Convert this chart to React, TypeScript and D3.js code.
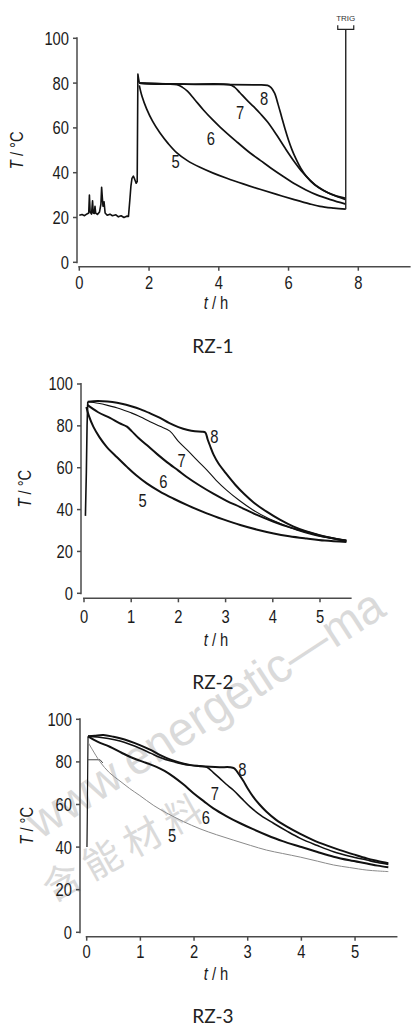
import React from "react";
import * as d3 from "d3";

type Pt = [number, number];

// shared
const yTicks = [0, 20, 40, 60, 80, 100];

// ---- RZ-1 ----
const rz1XTicks = [0, 2, 4, 6, 8];
const rz1Pre: Pt[] = [
  [0, 21], [0.08, 21.3], [0.15, 20.8], [0.22, 21.6], [0.27, 22], [0.29, 30], [0.31, 22.5],
  [0.35, 21.5], [0.38, 27.5], [0.4, 22], [0.43, 21.8], [0.45, 25], [0.47, 22], [0.52, 21.4],
  [0.58, 22.5], [0.62, 26], [0.64, 33.5], [0.66, 29], [0.68, 25], [0.71, 27], [0.74, 22],
  [0.8, 21], [0.88, 21.5], [0.95, 20.8], [1.05, 21.2], [1.12, 20.3], [1.2, 20.8], [1.28, 20],
  [1.36, 20.6], [1.41, 20.5], [1.45, 28], [1.48, 34], [1.51, 37.5], [1.55, 38.5], [1.59, 37],
  [1.63, 35.3], [1.66, 36], [1.68, 84], [1.7, 82], [1.72, 80.2],
];
const rz1C8: Pt[] = [
  [1.72, 80], [2, 79.6], [3, 79.5], [4, 79.4], [5, 79.2], [5.4, 79], [5.5, 78], [5.6, 75.5],
  [5.7, 70.5], [5.8, 65], [5.9, 59.5], [6.0, 54.5], [6.1, 50.2], [6.2, 46.6], [6.35, 42],
  [6.5, 38.6], [6.75, 34.6], [7.0, 32.1], [7.3, 30], [7.64, 28.6],
];
const rz1C7: Pt[] = [
  [1.72, 80], [3, 79.5], [4.3, 79.3], [4.45, 78.2], [4.6, 75.8], [4.8, 72.5], [5.0, 69.5],
  [5.2, 66.2], [5.4, 62.6], [5.66, 56.8], [5.9, 51], [6.14, 45.5], [6.4, 40.2], [6.62, 36.6],
  [6.85, 33.6], [7.09, 31.4], [7.35, 29.6], [7.64, 28],
];
const rz1C6: Pt[] = [
  [1.72, 80], [2.5, 79.6], [2.8, 79.3], [2.95, 78.2], [3.1, 76.4], [3.3, 72.8], [3.56, 68],
  [3.8, 64], [4.03, 60.5], [4.5, 54], [4.89, 48.9], [5.2, 45.4], [5.5, 42], [5.85, 38.3],
  [6.2, 34.8], [6.5, 32.3], [6.81, 30.1], [7.2, 28], [7.64, 26],
];
const rz1C5: Pt[] = [
  [1.72, 79], [1.8, 74], [1.93, 68.5], [2.1, 63], [2.31, 57.8], [2.55, 53], [2.79, 49],
  [3.1, 45.4], [3.46, 42.4], [3.84, 39.8], [4.23, 37.5], [4.7, 35], [5.18, 32.6], [5.66, 30.3],
  [6.14, 28.1], [6.6, 26.1], [6.9, 25], [7.3, 24.2], [7.64, 23.7],
];
const rz1Labels: [string, number, number][] = [
  ["8", 5.3, 73.2], ["7", 4.61, 66.8], ["6", 3.77, 55.4], ["5", 2.76, 44.9],
];
const trigTime = 7.64;
const trigBottom = 23.7;
const trigTop = 104;

// ---- RZ-2 ----
const rz2XTicks = [0, 1, 2, 3, 4, 5];
const rz2Rise: Pt[] = [[0.03, 37], [0.05, 58], [0.065, 80], [0.08, 91.5]];
const rz2C8: Pt[] = [
  [0.08, 91.5], [0.2, 91.8], [0.4, 91.8], [0.6, 91.4], [0.8, 90.6], [1.0, 89.4], [1.2, 87.9],
  [1.4, 86], [1.6, 83.9], [1.8, 81.4], [2.0, 79.4], [2.2, 78], [2.35, 77.4], [2.5, 77.2],
  [2.57, 76.8], [2.62, 73.5], [2.67, 70.5], [2.75, 66], [2.85, 62], [3.0, 57.5], [3.2, 52],
  [3.4, 47.3], [3.6, 43.3], [3.87, 39], [4.15, 35.2], [4.43, 32], [4.7, 29.7], [4.99, 27.8],
  [5.25, 26.4], [5.56, 25.1],
];
const rz2C7: Pt[] = [
  [0.08, 91.5], [0.3, 90.8], [0.5, 89.8], [0.76, 88.2], [1.0, 86.2], [1.19, 84.4], [1.4, 82],
  [1.61, 79.8], [1.82, 77.5], [2.0, 72.6], [2.19, 68.4], [2.4, 63.5], [2.6, 59], [2.8, 54],
  [3.02, 49.3], [3.3, 44.2], [3.58, 39.8], [3.87, 36.2], [4.15, 33.4], [4.5, 30.3],
  [4.86, 27.9], [5.2, 26.5], [5.56, 25.5],
];
const rz2C6: Pt[] = [
  [0.07, 90], [0.3, 86.5], [0.55, 83.8], [0.75, 81.3], [0.91, 79.6], [1.01, 77.5],
  [1.15, 74.3], [1.33, 70.8], [1.55, 66.5], [1.75, 62.8], [2.0, 58.6], [2.17, 55.7],
  [2.45, 51.5], [2.74, 47.6], [3.02, 44.2], [3.31, 41.2], [3.65, 37.6], [4.02, 34.2],
  [4.35, 31.6], [4.72, 29.3], [5.1, 27], [5.56, 25],
];
const rz2C5: Pt[] = [
  [0.05, 89], [0.1, 85], [0.2, 79.5], [0.33, 74.5], [0.48, 70], [0.7, 65], [0.91, 60.4],
  [1.1, 56.5], [1.33, 52.5], [1.6, 48.7], [1.89, 45.3], [2.2, 42], [2.6, 38.2], [2.95, 35.3],
  [3.31, 32.6], [3.65, 30.5], [4.02, 28.6], [4.35, 27.3], [4.72, 26.2], [5.1, 25.2], [5.56, 24.5],
];
const rz2Labels: [string, number, number][] = [
  ["8", 2.76, 74.7], ["7", 2.07, 63.6], ["6", 1.68, 53.3], ["5", 1.24, 44.5],
];

// ---- RZ-3 ----
const rz3XTicks = [0, 1, 2, 3, 4, 5];
const rz3Rise: Pt[] = [[0.005, 40], [0.01, 52], [0.015, 66], [0.02, 80], [0.025, 92]];
const rz3Shelf: Pt[] = [[0.01, 81], [0.25, 81], [0.3, 79.5]];
const rz3C8: Pt[] = [
  [0.025, 92], [0.15, 92.3], [0.31, 92.6], [0.5, 91.8], [0.62, 91.1], [0.8, 89.7],
  [0.99, 87.9], [1.2, 85.5], [1.37, 83.2], [1.55, 81.2], [1.74, 79.6], [1.92, 78.6],
  [2.11, 78.1], [2.3, 77.7], [2.48, 77.5], [2.67, 77.5], [2.75, 77], [2.8, 75.5], [2.86, 73.3],
  [2.92, 71], [3.0, 67.5], [3.1, 63.7], [3.22, 60], [3.35, 56.6], [3.53, 52.8], [3.73, 49.6],
  [3.98, 46.2], [4.22, 43.3], [4.47, 40.8], [4.72, 38.6], [4.97, 36.6], [5.22, 34.7],
  [5.42, 33.5], [5.62, 32.4],
];
const rz3C7: Pt[] = [
  [0.025, 92], [0.2, 91.7], [0.4, 91], [0.62, 89.8], [0.8, 88.3], [0.99, 86.4], [1.2, 84],
  [1.37, 82.1], [1.55, 80.5], [1.74, 79.3], [1.92, 78.4], [2.11, 77.9], [2.24, 77.5],
  [2.36, 75], [2.48, 72.3], [2.6, 69.5], [2.73, 66.8], [2.88, 63], [3.04, 59], [3.25, 54.8],
  [3.48, 51.2], [3.73, 47.5], [3.98, 44.1], [4.3, 40.7], [4.6, 37.8], [4.9, 35.7], [5.22, 33.9],
  [5.42, 32.8], [5.62, 31.9],
];
const rz3C6: Pt[] = [
  [0.025, 92], [0.2, 89.5], [0.43, 87.1], [0.65, 84.3], [0.87, 81.7], [1.1, 79.6], [1.3, 77.7],
  [1.45, 75.8], [1.62, 73], [1.8, 69.5], [1.99, 65.3], [2.18, 61.6], [2.36, 58.2], [2.6, 54.6],
  [2.86, 51.2], [3.1, 48.4], [3.35, 45.7], [3.65, 42.8], [3.98, 40.2], [4.3, 37.7], [4.6, 35.5],
  [4.9, 33.8], [5.22, 32.3], [5.42, 31.3], [5.62, 30.5],
];
const rz3C5: Pt[] = [
  [0.03, 89], [0.1, 86], [0.25, 80], [0.42, 75], [0.62, 71], [0.8, 67.5], [0.99, 64.2],
  [1.25, 59.5], [1.49, 56], [1.8, 52], [2.11, 48.6], [2.42, 45.8], [2.73, 43.3], [3.05, 40.8],
  [3.35, 38.6], [3.65, 37], [3.98, 35.3], [4.3, 33.4], [4.6, 31.6], [4.9, 30.4], [5.22, 29.2],
  [5.42, 28.8], [5.62, 28.5],
];
const rz3Labels: [string, number, number][] = [
  ["8", 2.9, 76.2], ["7", 2.39, 65.3], ["6", 2.22, 54], ["5", 1.59, 45.4],
];

// watermark pieces, laid along one slanted baseline
const wmPieces: [string, number][] = [["www.", 113], ["energetic", 192], ["—ma", 110]];

const NUM_FONT = "'Liberation Sans', Arial, sans-serif";
const CAP_FONT = "Lato, 'Open Sans', sans-serif";
const AXIS = "#4a4a4a";
const TXT = "#1a1a1a";

// narrow (Arial Narrow look) text: squeeze Liberation Sans horizontally
function NText(props: {
  x: number;
  y: number;
  anchor?: string;
  rotate?: number;
  size?: number;
  children: React.ReactNode;
}) {
  const { x, y, anchor = "middle", rotate = 0, size = 18, children } = props;
  return (
    <text
      transform={`translate(${x},${y}) rotate(${rotate}) scale(0.82,1)`}
      textAnchor={anchor}
      dy="0.36em"
      fontFamily={NUM_FONT}
      fontSize={size}
      fill={TXT}
    >
      {children}
    </text>
  );
}

type Series = { pts: Pt[]; w: number; color?: string; smooth?: boolean };

type PanelProps = {
  caption: string;
  xMax: number;
  xTicks: number[];
  x0: number;
  xUnit: number;
  yTop: number;
  yBot: number;
  yAxisX: number;
  xAxisY: number;
  tickLabelY: number;
  xLabelY: number;
  captionY: number;
  yLabelX: number;
  series: Series[];
  labels: [string, number, number][];
  children?: (x: d3.ScaleLinear<number, number>, y: d3.ScaleLinear<number, number>) => React.ReactNode;
};

function Panel(p: PanelProps) {
  const x = d3.scaleLinear().domain([0, p.xMax]).range([p.x0, p.x0 + p.xUnit * p.xMax]);
  const y = d3.scaleLinear().domain([0, 100]).range([p.yBot, p.yTop]);
  const mk = (smooth?: boolean) =>
    d3
      .line<Pt>()
      .x((d) => x(d[0]))
      .y((d) => y(d[1]))
      .curve(smooth ? d3.curveCatmullRom.alpha(0.5) : d3.curveLinear);
  const yMid = (p.yTop + p.yBot) / 2;
  return (
    <g>
      {/* y axis */}
      <line x1={p.yAxisX} x2={p.yAxisX} y1={y(100) - 1} y2={y(0) + 1} stroke={AXIS} strokeWidth={1.5} />
      {yTicks.map((t) => (
        <g key={t}>
          <line x1={p.yAxisX - 4} x2={p.yAxisX} y1={y(t)} y2={y(t)} stroke={AXIS} strokeWidth={1.5} />
          <NText x={p.yAxisX - 8} y={y(t)} anchor="end">
            {t}
          </NText>
        </g>
      ))}
      {/* x axis */}
      <line x1={x(0) - 1} x2={x(p.xMax)} y1={p.xAxisY} y2={p.xAxisY} stroke={AXIS} strokeWidth={1.5} />
      {p.xTicks.map((t) => (
        <g key={t}>
          <line x1={x(t)} x2={x(t)} y1={p.xAxisY} y2={p.xAxisY + 4} stroke={AXIS} strokeWidth={1.5} />
          <NText x={x(t)} y={p.tickLabelY}>
            {t}
          </NText>
        </g>
      ))}
      <NText x={216} y={p.xLabelY}>
        <tspan fontStyle="italic">t</tspan> / h
      </NText>
      <NText x={p.yLabelX} y={yMid} rotate={-90}>
        <tspan fontStyle="italic">T</tspan> / °C
      </NText>
      {p.series.map((s, i) => (
        <path
          key={i}
          d={mk(s.smooth)(s.pts) || ""}
          fill="none"
          stroke={s.color || "#111"}
          strokeWidth={s.w}
          strokeLinejoin="round"
        />
      ))}
      {p.labels.map(([l, lx, ly]) => (
        <NText key={l} x={x(lx)} y={y(ly)}>
          {l}
        </NText>
      ))}
      {p.children && p.children(x, y)}
      <text x={213} y={p.captionY} dy="0.36em" textAnchor="middle" fontFamily={CAP_FONT} fontSize={19} fill="#222">
        {p.caption}
      </text>
    </g>
  );
}

function Watermark() {
  const ang = -33;
  const cos = Math.cos((ang * Math.PI) / 180);
  const sin = Math.sin((ang * Math.PI) / 180);
  let along = 0;
  return (
    <g fill="#dadada" fontFamily="'Liberation Sans', sans-serif">
      {wmPieces.map(([s, w]) => {
        const px = 40 + along * cos;
        const py = 840 + along * sin;
        along += w;
        return (
          <text
            key={s}
            transform={`translate(${px},${py}) rotate(${ang})`}
            fontSize={48}
            textLength={w}
            lengthAdjust="spacingAndGlyphs"
          >
            {s}
          </text>
        );
      })}
      <text
        transform="translate(52,903) rotate(-29)"
        fontSize={38}
        fontFamily="'Noto Sans CJK SC', sans-serif"
        letterSpacing={8}
      >
        含能材料
      </text>
    </g>
  );
}

export default function App() {
  return (
    <svg
      width={411}
      height={1026}
      viewBox="0 0 411 1026"
      style={{ position: "absolute", left: 0, top: 0, background: "#fff" }}
    >
      <rect width={411} height={1026} fill="#fff" />
      <Watermark />
      <Panel
        caption="RZ-1"
        xMax={9.5}
        xTicks={rz1XTicks}
        x0={79.3}
        xUnit={34.875}
        yTop={38.3}
        yBot={262.3}
        yAxisX={77}
        xAxisY={266.7}
        tickLabelY={283}
        xLabelY={303}
        captionY={346}
        yLabelX={17}
        series={[
          { pts: rz1Pre, w: 1.6 },
          { pts: rz1C5, w: 1.7, smooth: true },
          { pts: rz1C6, w: 1.7, smooth: true },
          { pts: rz1C7, w: 1.7, smooth: true },
          { pts: rz1C8, w: 1.7, smooth: true },
        ]}
        labels={rz1Labels}
      >
        {(x, y) => (
          <g stroke="#222" fill="none" strokeWidth={1.4}>
            <line x1={x(trigTime)} x2={x(trigTime)} y1={y(trigBottom)} y2={y(trigTop)} />
            <path
              d={`M${x(trigTime) - 8},${y(trigTop) - 4}V${y(trigTop)}H${x(trigTime) + 8}V${y(trigTop) - 4}`}
              strokeWidth={1.2}
            />
            <text
              x={x(trigTime)}
              y={y(trigTop) - 8}
              textAnchor="middle"
              fontFamily="'Liberation Sans', sans-serif"
              fontSize={8}
              fill="#333"
              stroke="none"
            >
              TRIG
            </text>
          </g>
        )}
      </Panel>
      <Panel
        caption="RZ-2"
        xMax={5.67}
        xTicks={rz2XTicks}
        x0={84}
        xUnit={47.2}
        yTop={384}
        yBot={593.3}
        yAxisX={81}
        xAxisY={598.3}
        tickLabelY={617}
        xLabelY={640}
        captionY={682}
        yLabelX={25}
        series={[
          { pts: rz2Rise, w: 1.6 },
          { pts: rz2C5, w: 2, smooth: true },
          { pts: rz2C6, w: 2, smooth: true },
          { pts: rz2C7, w: 1.1, smooth: true },
          { pts: rz2C8, w: 2, smooth: true },
        ]}
        labels={rz2Labels}
      />
      <Panel
        caption="RZ-3"
        xMax={5.79}
        xTicks={rz3XTicks}
        x0={86.7}
        xUnit={53.67}
        yTop={719.3}
        yBot={932.3}
        yAxisX={80}
        xAxisY={936.7}
        tickLabelY={951.7}
        xLabelY={974}
        captionY={1016.5}
        yLabelX={27}
        series={[
          { pts: rz3Rise, w: 1.2 },
          { pts: rz3Shelf, w: 1, color: "#444" },
          { pts: rz3C5, w: 1, color: "#8a8a8a", smooth: true },
          { pts: rz3C6, w: 2, smooth: true },
          { pts: rz3C7, w: 1.6, smooth: true },
          { pts: rz3C8, w: 2, smooth: true },
        ]}
        labels={rz3Labels}
      />
    </svg>
  );
}
